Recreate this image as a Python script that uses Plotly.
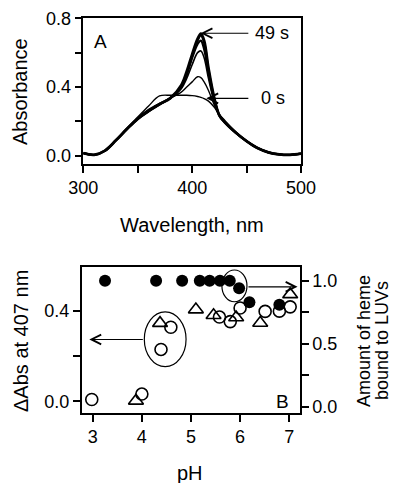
import plotly.graph_objects as go

# ---------------- Panel A data ----------------
wavelength = [300, 310, 320, 330, 340, 350, 360, 370, 380, 390, 395, 400, 405,
              408, 411, 415, 420, 425, 430, 440, 450, 460, 470, 480, 490, 500]
abs_0s = [0.015, 0.005, 0.03, 0.09, 0.16, 0.225, 0.29, 0.348, 0.352, 0.352, 0.352, 0.35, 0.345,
          0.34, 0.333, 0.318, 0.285, 0.24, 0.205, 0.14, 0.085, 0.045, 0.02, 0.008, 0.005, 0.012]
abs_t1 = [0.015, 0.005, 0.03, 0.09, 0.155, 0.22, 0.27, 0.305, 0.335, 0.37, 0.40, 0.43, 0.46,
          0.455, 0.43, 0.38, 0.30, 0.235, 0.2, 0.135, 0.085, 0.045, 0.02, 0.008, 0.005, 0.012]
abs_t2 = [0.015, 0.005, 0.03, 0.09, 0.155, 0.215, 0.265, 0.30, 0.335, 0.39, 0.45, 0.53, 0.60,
          0.61, 0.57, 0.45, 0.32, 0.235, 0.195, 0.135, 0.085, 0.045, 0.02, 0.008, 0.005, 0.012]
abs_t3 = [0.015, 0.005, 0.03, 0.09, 0.155, 0.215, 0.26, 0.30, 0.335, 0.40, 0.47, 0.57, 0.65,
          0.67, 0.62, 0.48, 0.33, 0.235, 0.195, 0.135, 0.085, 0.045, 0.02, 0.008, 0.005, 0.012]
abs_t4 = [0.015, 0.005, 0.03, 0.09, 0.155, 0.215, 0.26, 0.30, 0.335, 0.40, 0.48, 0.58, 0.67,
          0.70, 0.66, 0.50, 0.34, 0.235, 0.195, 0.135, 0.085, 0.045, 0.02, 0.008, 0.005, 0.012]
abs_49s = [0.015, 0.005, 0.03, 0.09, 0.155, 0.215, 0.26, 0.30, 0.335, 0.41, 0.49, 0.59, 0.68,
           0.71, 0.67, 0.51, 0.345, 0.235, 0.195, 0.135, 0.085, 0.045, 0.02, 0.008, 0.005, 0.012]
spectra = [abs_0s, abs_t1, abs_t2, abs_t3, abs_t4, abs_49s]
spectra_widths = [1.4, 1.4, 1.6, 2.2, 2.2, 2.8]

# ---------------- Panel B data ----------------
ph_bound = [3.25, 4.29, 4.82, 5.18, 5.38, 5.59, 5.79, 5.98, 6.19, 6.8]
heme_bound = [1.0, 1.0, 1.0, 1.0, 1.0, 1.0, 1.0, 0.94, 0.83, 0.81]

ph_circle = [2.98, 4.0, 4.39, 4.59, 5.58, 5.8, 6.0, 6.51, 6.8, 7.02]
dabs_circle = [0.008, 0.032, 0.229, 0.327, 0.372, 0.352, 0.412, 0.397, 0.398, 0.417]

ph_tri = [3.88, 4.37, 5.1, 5.46, 5.92, 6.41, 7.02]
dabs_tri = [0.002, 0.345, 0.405, 0.38, 0.37, 0.346, 0.472]

FONT = "Liberation Sans, Arial, sans-serif"

fig = go.Figure()

for vals, w in zip(spectra, spectra_widths):
    fig.add_trace(go.Scatter(x=wavelength, y=vals, mode="lines", line_shape="spline",
                             line=dict(color="black", width=w), xaxis="x", yaxis="y",
                             showlegend=False, hoverinfo="skip"))

fig.add_trace(go.Scatter(x=ph_bound, y=heme_bound, mode="markers", xaxis="x2", yaxis="y3",
                         marker=dict(symbol="circle", size=12, color="black"),
                         showlegend=False))
fig.add_trace(go.Scatter(x=ph_circle, y=dabs_circle, mode="markers", xaxis="x2", yaxis="y2",
                         marker=dict(symbol="circle-open", size=12, color="black",
                                     line=dict(width=1.6)),
                         showlegend=False))
fig.add_trace(go.Scatter(x=ph_tri, y=dabs_tri, mode="markers", xaxis="x2", yaxis="y2",
                         marker=dict(symbol="triangle-up-open", size=13, color="black",
                                     line=dict(width=1.6)),
                         showlegend=False))

# The page body has an 8px margin, so the figure is drawn 8px in from the
# top-left corner of the 398x483 window; size it to fill the rest.
OFF = 8
W, H = 398 - OFF, 483 - OFF
def fx(px):
    return (px - OFF) / W
def fy(py):
    return 1 - (py - OFF) / H
def dx(a, b):
    return [fx(a), fx(b)]
def dy(top, bottom):
    return [fy(bottom), fy(top)]

minor_common = dict(ticklen=7, tickwidth=1.5, tickcolor="black", ticks="outside")
axis_common = dict(showline=True, linecolor="black", linewidth=1.5, mirror=True,
                   ticks="outside", ticklen=7, tickwidth=1.5, tickcolor="black",
                   showgrid=False, zeroline=False, automargin=False,
                   tickfont=dict(family=FONT, size=18, color="black"))

fig.update_layout(
    template="none",
    width=W, height=H,
    margin=dict(l=0, r=0, t=0, b=0, autoexpand=False),
    paper_bgcolor="white", plot_bgcolor="white",
    font=dict(family=FONT, color="black"),
    xaxis=dict(axis_common, domain=dx(83.3, 301), anchor="y", range=[300, 500],
               tickvals=[300, 400, 500], minor=dict(minor_common, tickvals=[350, 450])),
    yaxis=dict(axis_common, domain=dy(18.3, 164), anchor="x", range=[-0.048, 0.8],
               tickvals=[0.0, 0.4, 0.8], ticktext=["0.0", "0.4", "0.8"],
               minor=dict(minor_common, tickvals=[0.2, 0.6])),
    xaxis2=dict(axis_common, domain=dx(81.7, 300), anchor="y2", range=[2.775, 7.22],
                tickvals=[3, 4, 5, 6, 7]),
    yaxis2=dict(axis_common, domain=dy(267, 413), anchor="x2", range=[-0.0516, 0.593],
                mirror=False,
                tickvals=[0.0, 0.4], ticktext=["0.0", "0.4"],
                minor=dict(minor_common, tickvals=[0.2])),
    yaxis3=dict(axis_common, domain=dy(267, 413), anchor="x2", overlaying="y2",
                side="right", range=[-0.05, 1.109], mirror=False,
                tickvals=[0.0, 0.5, 1.0], ticktext=["0.0", "0.5", "1.0"],
                minor=dict(minor_common, tickvals=[0.25, 0.75])),
)

ann = []
tfont = dict(family=FONT, size=20, color="black")
def paper_text(text, px, py, angle=0, font=tfont):
    return dict(text=text, x=fx(px), y=fy(py), xref="paper", yref="paper",
                xanchor="center", yanchor="middle", textangle=angle,
                showarrow=False, font=font)

# axis titles
ann.append(paper_text("Absorbance", 20, 92, -90))
ann.append(paper_text("Wavelength, nm", 192, 225))
ann.append(paper_text("ΔAbs at 407 nm", 21, 341, -90))
rfont = dict(family=FONT, size=18, color="black")
ann.append(paper_text("Amount of heme", 364, 341, -90, rfont))
ann.append(paper_text("bound to LUVs", 382, 341, -90, rfont))
ann.append(paper_text("pH", 190, 473))
# panel labels
lfont = dict(family=FONT, size=19, color="black")
ann.append(dict(text="A", x=315.4, y=0.664, xref="x", yref="y", showarrow=False,
                xanchor="center", yanchor="middle", font=lfont))
ann.append(dict(text="B", x=6.87, y=0.04, xref="x2", yref="y3", showarrow=False,
                xanchor="center", yanchor="middle", font=lfont))
# time labels with arrows
ann.append(dict(text="49 s", x=456, y=0.713, xref="x", yref="y", showarrow=False,
                xanchor="left", yanchor="middle",
                font=dict(family=FONT, size=18, color="black")))
ann.append(dict(text="0 s", x=461, y=0.334, xref="x", yref="y", showarrow=False,
                xanchor="left", yanchor="middle",
                font=dict(family=FONT, size=18, color="black")))
ann.append(dict(text="", x=407.7, y=0.713, ax=453, ay=0.713, xref="x", yref="y",
                axref="x", ayref="y", showarrow=True, arrowhead=5, arrowsize=1.6,
                arrowwidth=1.2, arrowcolor="black"))
ann.append(dict(text="", x=413, y=0.334, ax=453, ay=0.334, xref="x", yref="y",
                axref="x", ayref="y", showarrow=True, arrowhead=5, arrowsize=1.6,
                arrowwidth=1.2, arrowcolor="black"))
# panel B arrows
ann.append(dict(text="", x=2.93, y=0.273, ax=4.05, ay=0.273, xref="x2", yref="y2",
                axref="x2", ayref="y2", showarrow=True, arrowhead=5, arrowsize=1.6,
                arrowwidth=1.2, arrowcolor="black"))
ann.append(dict(text="", x=7.17, y=0.952, ax=6.14, ay=0.952, xref="x2", yref="y3",
                axref="x2", ayref="y3", showarrow=True, arrowhead=5, arrowsize=1.6,
                arrowwidth=1.2, arrowcolor="black"))
fig.update_layout(annotations=ann)

fig.update_layout(shapes=[
    dict(type="circle", xref="x2", yref="y2", x0=4.05, x1=4.9, y0=0.153, y1=0.395,
         line=dict(color="black", width=1.2)),
    dict(type="circle", xref="x2", yref="y3", x0=5.63, x1=6.14, y0=0.833, y1=1.085,
         line=dict(color="black", width=1.2)),
])

fig.write_html("out.html")
